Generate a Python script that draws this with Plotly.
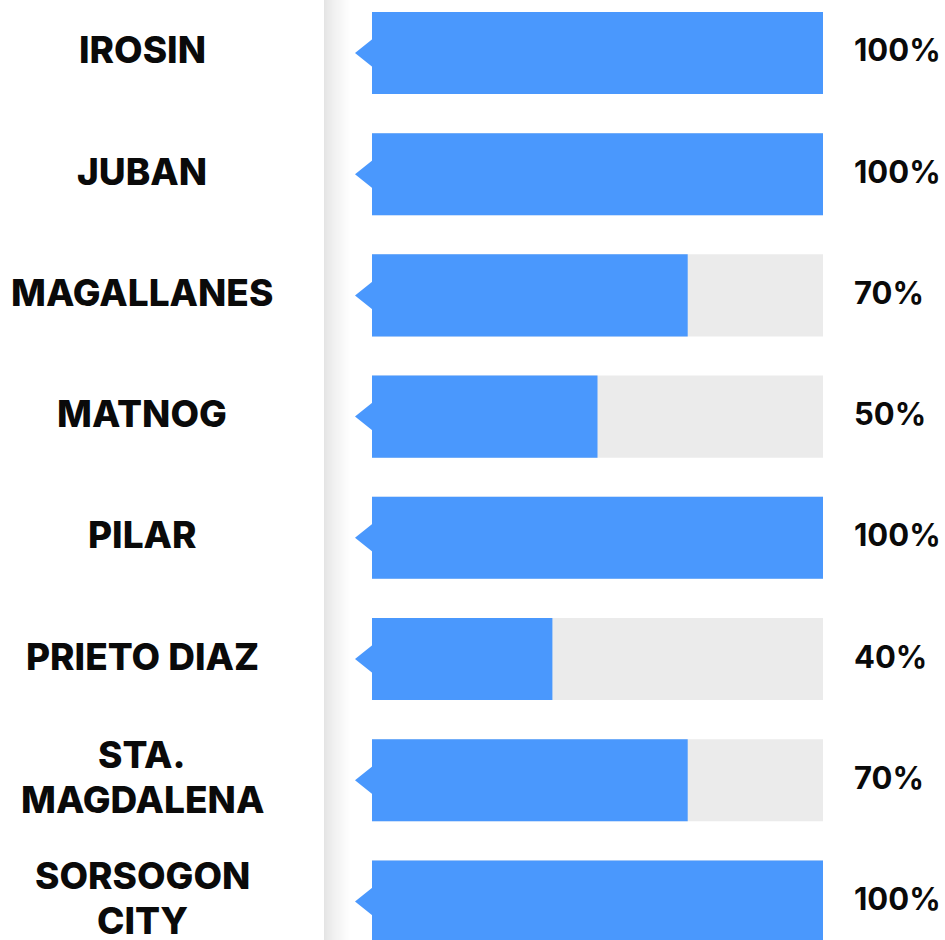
import plotly.graph_objects as go

categories = ["IROSIN", "JUBAN", "MAGALLANES", "MATNOG", "PILAR",
              "PRIETO DIAZ", "STA.\nMAGDALENA", "SORSOGON\nCITY"]
values = [100, 100, 70, 50, 100, 40, 70, 100]
full_value = 100

W, H = 945, 940
BAR_X0, BAR_X1 = 372, 823
BLUE = "#4a98fd"
GRAY = "#ebebeb"
FONT = "Inter"

n = len(categories)
idx = list(range(n))

fig = go.Figure()
fig.add_trace(go.Bar(x=[full_value] * n, y=idx, orientation="h",
                     marker=dict(color=GRAY, line=dict(width=0)),
                     width=0.677, hoverinfo="skip"))
fig.add_trace(go.Bar(x=values, y=idx, orientation="h",
                     marker=dict(color=BLUE, line=dict(width=0)),
                     width=0.677))

shapes = []
# soft shadow band at the left panel edge
x_start, x_end = 324, 351
steps = x_end - x_start
for k in range(steps):
    t = k / (steps - 1)
    g = int(round(228 + (255 - 228) * (t ** 0.8)))
    shapes.append(dict(type="rect", xref="paper", yref="paper",
                       x0=(x_start + k) / W, x1=(x_start + k + 1) / W,
                       y0=0, y1=1, fillcolor=f"rgb({g},{g},{g})",
                       line=dict(width=0), layer="below"))
# little pointers at the bar starts
for i in idx:
    shapes.append(dict(type="path", xref="paper", yref="y",
                       xsizemode="pixel", ysizemode="pixel",
                       xanchor=BAR_X0 / W, yanchor=i,
                       path="M0.5,14 L-17,0 L0.5,-14 Z",
                       fillcolor=BLUE, line=dict(width=0)))

annotations = []
for i, (cat, v) in enumerate(zip(categories, values)):
    lines = cat.split("\n")
    m = len(lines)
    for j, line in enumerate(lines):
        shift = ((m - 1) / 2 - j) * 45 + 3
        annotations.append(dict(text=line, xref="paper", yref="y",
                                x=142 / W, y=i, xanchor="center", yanchor="middle",
                                yshift=shift, showarrow=False,
                                font=dict(family=FONT, size=37, weight=800,
                                          color="#0a0a0a")))
    annotations.append(dict(text=f"{v}%", xref="paper", yref="y",
                            x=852 / W, y=i, xanchor="left", yanchor="middle",
                            yshift=3, showarrow=False,
                            font=dict(family=FONT, size=31, weight=700,
                                      color="#0a0a0a")))

fig.update_layout(
    width=W, height=H, margin=dict(l=0, r=0, t=0, b=0),
    paper_bgcolor="white", plot_bgcolor="rgba(0,0,0,0)",
    barmode="overlay", showlegend=False,
    xaxis=dict(domain=[BAR_X0 / W, BAR_X1 / W], range=[0, full_value],
               visible=False, fixedrange=True),
    yaxis=dict(range=[7.318, -0.437], visible=False, fixedrange=True),
    shapes=shapes, annotations=annotations,
)

fig.write_html("out.html", config={"displayModeBar": False},
               post_script="document.body.style.margin='0px';")
